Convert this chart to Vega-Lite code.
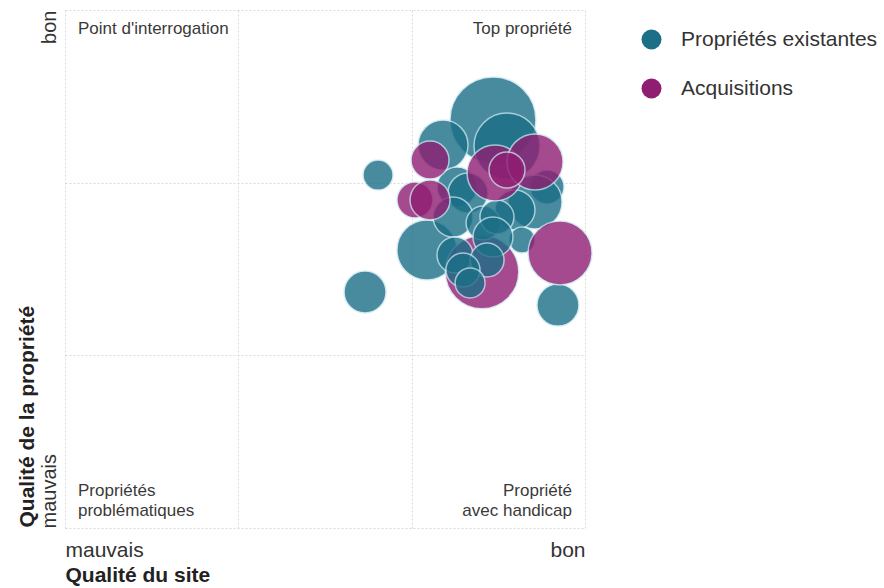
{
  "$schema": "https://vega.github.io/schema/vega-lite/v6.json",
  "width": 520,
  "height": 518,
  "autosize": {"type": "none"},
  "padding": {"left": 65, "top": 10, "right": 299, "bottom": 60},
  "config": {
    "view": {"stroke": null},
    "font": "Liberation Sans"
  },
  "datasets": {
    "bulles": [
      {"type": "Propriétés existantes", "site": 2.469, "propriete": 2.363, "valeur": 185},
      {"type": "Propriétés existantes", "site": 2.181, "propriete": 2.218, "valeur": 62.5},
      {"type": "Propriétés existantes", "site": 2.550, "propriete": 2.212, "valeur": 109},
      {"type": "Propriétés existantes", "site": 1.806, "propriete": 2.044, "valeur": 22.5},
      {"type": "Propriétés existantes", "site": 2.262, "propriete": 1.975, "valeur": 40},
      {"type": "Propriétés existantes", "site": 2.325, "propriete": 1.940, "valeur": 40},
      {"type": "Propriétés existantes", "site": 2.781, "propriete": 1.975, "valeur": 28.9},
      {"type": "Propriétés existantes", "site": 2.712, "propriete": 1.888, "valeur": 72.9},
      {"type": "Propriétés existantes", "site": 2.596, "propriete": 1.842, "valeur": 40},
      {"type": "Propriétés existantes", "site": 2.088, "propriete": 1.610, "valeur": 90},
      {"type": "Propriétés existantes", "site": 1.731, "propriete": 1.367, "valeur": 44.1},
      {"type": "Propriétés existantes", "site": 2.844, "propriete": 1.291, "valeur": 44.1},
      {"type": "Propriétés existantes", "site": 2.637, "propriete": 1.668, "valeur": 16.9},
      {"type": "Acquisitions", "site": 2.406, "propriete": 1.483, "valeur": 135},
      {"type": "Propriétés existantes", "site": 2.239, "propriete": 1.801, "valeur": 40},
      {"type": "Propriétés existantes", "site": 2.412, "propriete": 1.766, "valeur": 28.9},
      {"type": "Propriétés existantes", "site": 2.492, "propriete": 1.801, "valeur": 28.9},
      {"type": "Propriétés existantes", "site": 2.469, "propriete": 1.685, "valeur": 40},
      {"type": "Propriétés existantes", "site": 2.250, "propriete": 1.581, "valeur": 32.4},
      {"type": "Propriétés existantes", "site": 2.435, "propriete": 1.552, "valeur": 28.9},
      {"type": "Propriétés existantes", "site": 2.296, "propriete": 1.494, "valeur": 28.9},
      {"type": "Propriétés existantes", "site": 2.337, "propriete": 1.419, "valeur": 22.5},
      {"type": "Acquisitions", "site": 2.106, "propriete": 2.131, "valeur": 36.1},
      {"type": "Acquisitions", "site": 2.481, "propriete": 2.056, "valeur": 78.4},
      {"type": "Acquisitions", "site": 2.712, "propriete": 2.120, "valeur": 78.4},
      {"type": "Acquisitions", "site": 2.550, "propriete": 2.073, "valeur": 32.4},
      {"type": "Acquisitions", "site": 2.019, "propriete": 1.900, "valeur": 32.4},
      {"type": "Acquisitions", "site": 2.106, "propriete": 1.900, "valeur": 40},
      {"type": "Acquisitions", "site": 2.856, "propriete": 1.593, "valeur": 102.4}
    ],
    "hautGauche": [
      {"site": 0, "propriete": 3, "texte": ["Point d'interrogation"]}
    ],
    "hautDroite": [
      {"site": 3, "propriete": 3, "texte": ["Top propriété"]}
    ],
    "basGauche": [
      {"site": 0, "propriete": 0, "texte": ["Propriétés", "problématiques"]}
    ],
    "basDroite": [
      {"site": 3, "propriete": 0, "texte": ["Propriété", "avec handicap"]}
    ]
  },
  "layer": [
    {
      "data": {"name": "bulles"},
      "mark": {"type": "circle", "opacity": 0.8, "stroke": "#cfeaf2", "strokeWidth": 1.5, "strokeOpacity": 0.9},
      "encoding": {
        "x": {
          "field": "site", "type": "quantitative",
          "scale": {"domain": [0, 3], "nice": false, "zero": false},
          "axis": {
            "values": [0, 1, 2, 3],
            "labelExpr": "datum.value == 0 ? 'mauvais' : (datum.value == 3 ? 'bon' : '')",
            "labelFlush": true,
            "labelFontSize": 21,
            "labelColor": "#333333",
            "labelPadding": 11,
            "labelBaseline": "top",
            "ticks": false,
            "domain": false,
            "grid": true,
            "gridColor": "#d9d9d9",
            "gridDash": [2, 2],
            "gridWidth": 1,
            "title": "Qualité du site",
            "titleFontSize": 21,
            "titleFontWeight": "bold",
            "titleColor": "#222222",
            "titleAnchor": "start",
            "titleAlign": "left",
            "titleBaseline": "alphabetic",
            "titleX": 0,
            "titleY": 53
          }
        },
        "y": {
          "field": "propriete", "type": "quantitative",
          "scale": {"domain": [0, 3], "nice": false, "zero": false},
          "axis": {
            "values": [0, 1, 2, 3],
            "labelExpr": "datum.value == 0 ? 'mauvais' : (datum.value == 3 ? 'bon' : '')",
            "labelAngle": -90,
            "labelAlign": {"condition": {"test": "datum.value == 0", "value": "left"}, "value": "right"},
            "labelBaseline": "alphabetic",
            "labelFontSize": 20,
            "labelColor": "#333333",
            "labelPadding": 10,
            "ticks": false,
            "domain": false,
            "grid": true,
            "gridColor": "#d9d9d9",
            "gridDash": [2, 2],
            "gridWidth": 1,
            "title": "Qualité de la propriété",
            "titleFontSize": 21,
            "titleFontWeight": "bold",
            "titleColor": "#222222",
            "titleAngle": -90,
            "titleAlign": "left",
            "titleBaseline": "alphabetic",
            "titleX": -32,
            "titleY": 517
          }
        },
        "size": {
          "field": "valeur", "type": "quantitative",
          "scale": {"domain": [0, 200], "range": [0, 8000], "zero": true},
          "legend": null
        },
        "color": {
          "field": "type", "type": "nominal",
          "scale": {"domain": ["Propriétés existantes", "Acquisitions"], "range": ["#1b6f87", "#8f1e72"]},
          "legend": {
            "title": null,
            "orient": "none",
            "legendX": 576,
            "legendY": 19,
            "padding": 0,
            "symbolType": "circle",
            "symbolSize": 400,
            "symbolOpacity": 1,
            "symbolStrokeWidth": 0,
            "labelFontSize": 21,
            "labelColor": "#333333",
            "labelOffset": 19,
            "labelLimit": 0,
            "rowPadding": 27
          }
        }
      }
    },
    {
      "data": {"name": "hautGauche"},
      "mark": {"type": "text", "align": "left", "baseline": "alphabetic", "dx": 13, "dy": 24, "fontSize": 17, "color": "#3a3a3a", "lineHeight": 20},
      "encoding": {
        "x": {"field": "site", "type": "quantitative"},
        "y": {"field": "propriete", "type": "quantitative"},
        "text": {"field": "texte"}
      }
    },
    {
      "data": {"name": "hautDroite"},
      "mark": {"type": "text", "align": "right", "baseline": "alphabetic", "dx": -13, "dy": 24, "fontSize": 17, "color": "#3a3a3a", "lineHeight": 20},
      "encoding": {
        "x": {"field": "site", "type": "quantitative"},
        "y": {"field": "propriete", "type": "quantitative"},
        "text": {"field": "texte"}
      }
    },
    {
      "data": {"name": "basGauche"},
      "mark": {"type": "text", "align": "left", "baseline": "alphabetic", "dx": 13, "dy": -32, "fontSize": 17, "color": "#3a3a3a", "lineHeight": 20},
      "encoding": {
        "x": {"field": "site", "type": "quantitative"},
        "y": {"field": "propriete", "type": "quantitative"},
        "text": {"field": "texte"}
      }
    },
    {
      "data": {"name": "basDroite"},
      "mark": {"type": "text", "align": "right", "baseline": "alphabetic", "dx": -13, "dy": -32, "fontSize": 17, "color": "#3a3a3a", "lineHeight": 20},
      "encoding": {
        "x": {"field": "site", "type": "quantitative"},
        "y": {"field": "propriete", "type": "quantitative"},
        "text": {"field": "texte"}
      }
    }
  ]
}
